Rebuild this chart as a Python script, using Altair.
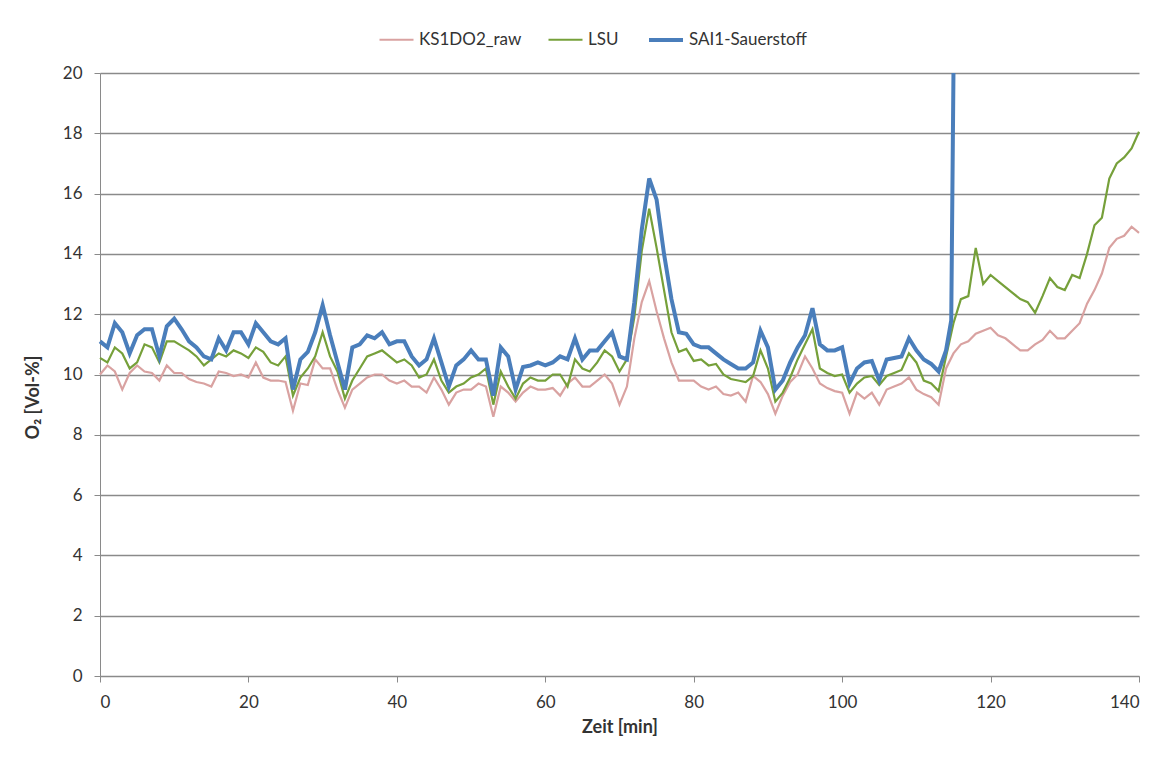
import altair as alt
import pandas as pd

# ---- data (1-minute steps) ----
minutes = list(range(0, 141))

ks1do2_raw = [
    10.0, 10.3, 10.1, 9.5, 10.05, 10.3, 10.1, 10.05, 9.8, 10.3,
    10.05, 10.05, 9.85, 9.75, 9.7, 9.6, 10.1, 10.05, 9.95, 10.0,
    9.9, 10.4, 9.9, 9.8, 9.8, 9.75, 8.8, 9.7, 9.65, 10.5,
    10.2, 10.2, 9.5, 8.9, 9.5, 9.7, 9.9, 10.0, 10.0, 9.8,
    9.7, 9.8, 9.6, 9.6, 9.4, 9.9, 9.5, 9.0, 9.4, 9.5,
    9.5, 9.7, 9.6, 8.6, 9.6, 9.4, 9.1, 9.4, 9.6, 9.5,
    9.5, 9.55, 9.3, 9.7, 9.9, 9.6, 9.6, 9.8, 10.0, 9.7,
    9.0, 9.6, 11.2, 12.4, 13.1, 12.1, 11.2, 10.4, 9.8, 9.8,
    9.8, 9.6, 9.5, 9.6, 9.35, 9.3, 9.4, 9.1, 9.95, 9.75,
    9.35, 8.7, 9.3, 9.75, 10.0, 10.6, 10.2, 9.7, 9.55, 9.45,
    9.4, 8.7, 9.4, 9.2, 9.4, 9.0, 9.5, 9.6, 9.7, 9.9,
    9.5, 9.35, 9.25, 9.0, 10.2, 10.7, 11.0, 11.1, 11.35, 11.45,
    11.55, 11.3, 11.2, 11.0, 10.8, 10.8, 11.0, 11.15, 11.45, 11.2,
    11.2, 11.45, 11.7, 12.35, 12.8, 13.35, 14.2, 14.5, 14.6, 14.9,
    14.7,
]

lsu = [
    10.55, 10.4, 10.9, 10.7, 10.2, 10.4, 11.0, 10.9, 10.4, 11.1,
    11.1, 10.95, 10.8, 10.6, 10.3, 10.5, 10.7, 10.6, 10.8, 10.7,
    10.55, 10.9, 10.75, 10.4, 10.3, 10.6, 9.3, 9.9, 10.2, 10.6,
    11.4, 10.6, 10.1, 9.2, 9.8, 10.2, 10.6, 10.7, 10.8, 10.6,
    10.4, 10.5, 10.3, 9.9, 10.0, 10.5, 9.8, 9.4, 9.6, 9.7,
    9.9, 10.0, 10.2, 9.0, 10.1, 9.6, 9.2, 9.7, 9.9, 9.8,
    9.8, 10.0, 10.0, 9.6, 10.5, 10.2, 10.1, 10.4, 10.8, 10.6,
    10.1, 10.5, 11.9, 14.1, 15.5, 14.2, 12.8, 11.4, 10.75, 10.85,
    10.45, 10.5, 10.3, 10.35, 10.0, 9.85, 9.8, 9.75, 9.95, 10.8,
    10.2, 9.1, 9.4, 9.9, 10.5, 11.0, 11.5, 10.2, 10.05, 9.95,
    10.0, 9.4, 9.7, 9.9, 9.95, 9.65, 9.95, 10.05, 10.15, 10.7,
    10.4, 9.8, 9.7, 9.45, 10.6, 11.7, 12.5, 12.6, 14.2, 13.0,
    13.3, 13.1, 12.9, 12.7, 12.5, 12.4, 12.05, 12.6, 13.2, 12.9,
    12.8, 13.3, 13.2, 14.0, 14.95, 15.2, 16.5, 17.0, 17.2, 17.5,
    18.05,
]

# SAI1-Sauerstoff: minutes 0..114, then the jump to the top at ~115 min
sai1_sauerstoff = [
    11.1, 10.9, 11.7, 11.4, 10.7, 11.3, 11.5, 11.5, 10.6, 11.6,
    11.85, 11.5, 11.1, 10.9, 10.6, 10.5, 11.2, 10.8, 11.4, 11.4,
    11.0, 11.7, 11.4, 11.1, 11.0, 11.2, 9.5, 10.5, 10.75, 11.4,
    12.3, 11.3, 10.4, 9.5, 10.9, 11.0, 11.3, 11.2, 11.4, 11.0,
    11.1, 11.1, 10.6, 10.3, 10.5, 11.2, 10.4, 9.6, 10.3, 10.5,
    10.8, 10.5, 10.5, 9.3, 10.9, 10.6, 9.5, 10.25, 10.3, 10.4,
    10.3, 10.4, 10.6, 10.5, 11.2, 10.5, 10.8, 10.8, 11.1, 11.4,
    10.6, 10.5, 12.4, 14.8, 16.5, 15.8, 14.0, 12.5, 11.4, 11.35,
    11.0, 10.9, 10.9, 10.7, 10.5, 10.35, 10.2, 10.2, 10.4, 11.45,
    10.9, 9.5, 9.8, 10.4, 10.9, 11.3, 12.2, 11.0, 10.8, 10.8,
    10.9, 9.7, 10.2, 10.4, 10.45, 9.8, 10.5, 10.55, 10.6, 11.2,
    10.8, 10.5, 10.35, 10.1, 10.8,
]
sai1_tail_t = [114.7, 115.0]
sai1_tail_v = [11.8, 20.0]

series_names = ["KS1DO2_raw", "LSU", "SAI1-Sauerstoff"]
series_colors = ["#d9a2a1", "#76a03a", "#4a7ebb"]
series_widths = [2.2, 2.2, 4.0]

x_ticks = [0, 20, 40, 60, 80, 100, 120, 140]
y_ticks = [0, 2, 4, 6, 8, 10, 12, 14, 16, 18, 20]

rows = []
for t, v in zip(minutes, ks1do2_raw):
    rows.append({"t": t, "v": v, "series": series_names[0]})
for t, v in zip(minutes, lsu):
    rows.append({"t": t, "v": v, "series": series_names[1]})
sai_t = minutes[: len(sai1_sauerstoff)] + sai1_tail_t
sai_v = sai1_sauerstoff + sai1_tail_v
for t, v in zip(sai_t, sai_v):
    rows.append({"t": t, "v": v, "series": series_names[2]})
df = pd.DataFrame(rows)

FONT = "Lato"
GRAY = "#8a8a8a"
TXT = "#333333"

legend_common = dict(
    title=None,
    orient="none",
    legendX=278,
    legendY=-52,
    direction="horizontal",
    symbolType="stroke",
    symbolSize=1156,
    labelFont=FONT,
    labelFontSize=17,
    labelColor=TXT,
    labelOffset=4,
    columnPadding=22,
    padding=0,
)

chart = (
    alt.Chart(df)
    .mark_line(interpolate="linear")
    .encode(
        x=alt.X(
            "t:Q",
            scale=alt.Scale(domain=[0, 140], nice=False, zero=False),
            axis=alt.Axis(
                values=x_ticks,
                title="Zeit [min]",
                grid=False,
                domainColor=GRAY,
                tickColor=GRAY,
                tickSize=6,
                labelPadding=12,
                labelFont=FONT,
                labelFontSize=17,
                labelColor=TXT,
                titleFont=FONT,
                titleFontSize=18,
                titleFontWeight="bold",
                titleColor=TXT,
                titlePadding=8,
            ),
        ),
        y=alt.Y(
            "v:Q",
            scale=alt.Scale(domain=[0, 20], nice=False),
            axis=alt.Axis(
                values=y_ticks,
                title="O₂ [Vol-%]",
                grid=True,
                gridColor=GRAY,
                gridWidth=1.3,
                domainColor=GRAY,
                tickColor=GRAY,
                tickSize=6,
                labelPadding=12,
                labelFont=FONT,
                labelFontSize=17,
                labelColor=TXT,
                titleFont=FONT,
                titleFontSize=18,
                titleFontWeight="bold",
                titleColor=TXT,
                titlePadding=20,
                titleY=324,
            ),
        ),
        color=alt.Color(
            "series:N",
            scale=alt.Scale(domain=series_names, range=series_colors),
            legend=alt.Legend(**legend_common),
        ),
        strokeWidth=alt.StrokeWidth(
            "series:O",
            scale=alt.Scale(type="ordinal", domain=series_names, range=series_widths),
            legend=None,
        ),
    )
    .properties(
        width=1039,
        height=603,
        autosize=alt.AutoSizeParams(type="none"),
        padding={"left": 92, "top": 65, "right": 16, "bottom": 70},
        background="white",
    )
    .configure_view(stroke="transparent")
)

chart.save("out.html", embed_options={"renderer": "svg", "actions": False})
